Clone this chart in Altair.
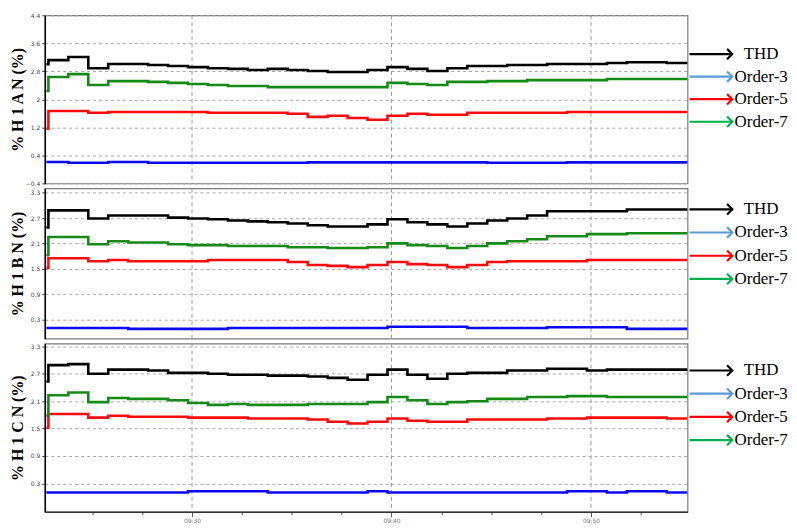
import altair as alt
import pandas as pd

# ---- data ----
times = [22.7, 22.8, 23.8, 24.8, 25.8, 26.8, 27.8, 28.8, 29.8, 30.8, 31.8, 32.8,
         33.8, 34.8, 35.8, 36.8, 37.8, 38.8, 39.8, 40.8, 41.8, 42.8, 43.8, 44.8,
         45.8, 46.8, 47.8, 48.8, 49.8, 50.8, 51.8, 52.8, 53.8]
t_end = 54.84

series_names = ["THD", "Order-3", "Order-5", "Order-7"]
line_colors = ["#000000", "#0a0af0", "#ff0a0a", "#168a16"]
legend_labels = ["THD", "Order-3", "Order-5", "Order-7"]
legend_colors = ["#000000", "#5b9bd5", "#ff0000", "#00b050"]

a_thd = [3.00, 3.12, 3.21, 2.89, 3.01, 3.01, 2.98, 2.95, 2.92, 2.89, 2.87, 2.84, 2.87, 2.84, 2.81, 2.78, 2.78,
         2.84, 2.92, 2.87, 2.81, 2.89, 2.95, 2.95, 2.98, 2.98, 3.01, 3.01, 3.01, 3.04, 3.06, 3.06, 3.04]
a_h3 = [0.21, 0.21, 0.19, 0.19, 0.21, 0.21, 0.19, 0.19, 0.19, 0.19, 0.19, 0.19, 0.19, 0.19, 0.20, 0.20, 0.20,
        0.20, 0.20, 0.20, 0.20, 0.20, 0.20, 0.19, 0.19, 0.19, 0.19, 0.20, 0.20, 0.20, 0.20, 0.20, 0.20]
a_h5 = [1.16, 1.67, 1.67, 1.62, 1.64, 1.64, 1.64, 1.64, 1.64, 1.62, 1.62, 1.62, 1.62, 1.59, 1.50, 1.53, 1.47,
        1.42, 1.53, 1.59, 1.56, 1.56, 1.62, 1.62, 1.62, 1.62, 1.62, 1.64, 1.64, 1.64, 1.64, 1.64, 1.64]
a_h7 = [2.24, 2.64, 2.72, 2.41, 2.52, 2.52, 2.50, 2.47, 2.44, 2.41, 2.38, 2.38, 2.35, 2.35, 2.35, 2.35, 2.35,
        2.35, 2.47, 2.44, 2.41, 2.50, 2.50, 2.52, 2.52, 2.55, 2.55, 2.55, 2.55, 2.58, 2.58, 2.58, 2.58]

b_thd = [2.48, 2.88, 2.88, 2.69, 2.76, 2.76, 2.76, 2.71, 2.69, 2.67, 2.64, 2.62, 2.60, 2.57, 2.53, 2.50, 2.50,
         2.55, 2.67, 2.60, 2.55, 2.50, 2.57, 2.64, 2.69, 2.76, 2.86, 2.86, 2.86, 2.86, 2.90, 2.90, 2.90]
b_h3 = [0.10, 0.10, 0.10, 0.10, 0.10, 0.08, 0.08, 0.08, 0.08, 0.08, 0.10, 0.10, 0.10, 0.10, 0.10, 0.10, 0.10,
        0.10, 0.13, 0.13, 0.13, 0.13, 0.10, 0.10, 0.10, 0.10, 0.12, 0.12, 0.12, 0.12, 0.08, 0.08, 0.08]
b_h5 = [1.52, 1.75, 1.75, 1.68, 1.71, 1.68, 1.68, 1.68, 1.68, 1.71, 1.71, 1.71, 1.71, 1.66, 1.59, 1.57, 1.54,
        1.59, 1.66, 1.61, 1.59, 1.54, 1.59, 1.66, 1.68, 1.68, 1.68, 1.68, 1.71, 1.71, 1.71, 1.71, 1.71]
b_h7 = [1.82, 2.25, 2.25, 2.08, 2.15, 2.12, 2.12, 2.08, 2.06, 2.06, 2.04, 2.04, 2.04, 2.01, 2.01, 1.99, 1.99,
        2.01, 2.10, 2.06, 2.04, 1.99, 2.04, 2.10, 2.15, 2.20, 2.27, 2.27, 2.32, 2.32, 2.34, 2.34, 2.34]

c_thd = [2.53, 2.89, 2.91, 2.70, 2.79, 2.79, 2.77, 2.72, 2.72, 2.70, 2.68, 2.68, 2.66, 2.66, 2.64, 2.61, 2.57,
         2.68, 2.79, 2.68, 2.59, 2.70, 2.72, 2.72, 2.77, 2.77, 2.81, 2.81, 2.77, 2.79, 2.79, 2.79, 2.79]
c_h3 = [0.10, 0.10, 0.10, 0.10, 0.10, 0.10, 0.10, 0.10, 0.13, 0.13, 0.13, 0.13, 0.10, 0.10, 0.10, 0.10, 0.10,
        0.13, 0.10, 0.10, 0.10, 0.10, 0.10, 0.10, 0.10, 0.10, 0.10, 0.13, 0.13, 0.10, 0.13, 0.13, 0.10]
c_h5 = [1.52, 1.82, 1.82, 1.74, 1.78, 1.76, 1.76, 1.76, 1.74, 1.74, 1.74, 1.72, 1.72, 1.72, 1.70, 1.65, 1.61,
        1.65, 1.72, 1.67, 1.65, 1.65, 1.70, 1.70, 1.70, 1.70, 1.72, 1.72, 1.74, 1.74, 1.74, 1.74, 1.72]
c_h7 = [1.78, 2.23, 2.29, 2.08, 2.17, 2.15, 2.15, 2.12, 2.06, 2.02, 2.04, 2.02, 2.02, 2.02, 2.04, 2.04, 2.04,
        2.08, 2.19, 2.12, 2.04, 2.08, 2.10, 2.15, 2.15, 2.19, 2.19, 2.21, 2.21, 2.19, 2.19, 2.19, 2.19]

major_ticks = [30, 40, 50]
minor_ticks = [25, 27.5, 32.5, 35, 37.5, 42.5, 45, 47.5, 52.5]

a_ticks = [-0.4, 0.4, 1.2, 2, 2.8, 3.6, 4.4]
bc_ticks = [0.3, 0.9, 1.5, 2.1, 2.7, 3.3]

X_DOMAIN = [22.62, 54.84]
SERIF = "Liberation Serif"


def make_df(series):
    rows = []
    for name, vals in zip(series_names, series):
        for t, v in zip(times + [t_end], vals + [vals[-1]]):
            rows.append({"t": t, "v": v, "series": name})
    return pd.DataFrame(rows)


def panel(series, title, domain, ticks, height, bottom):
    df = make_df(series)
    if bottom:
        x_axis = alt.Axis(
            values=major_ticks + minor_ticks,
            labelExpr="datum.value % 10 == 0 ? '09:' + datum.value : ''",
            grid=False, title=None, labelFontSize=6, labelColor="#777",
            labelFont="DejaVu Sans", tickColor="#555",
            tickSize={"condition": {"test": "datum.value % 10 == 0", "value": 5}, "value": 3},
            domainColor="#333", domainWidth=1.5, labelPadding=1,
        )
    else:
        x_axis = None
    x_enc = alt.X("t:Q", scale=alt.Scale(domain=X_DOMAIN, nice=False, zero=False), axis=x_axis)
    grid = alt.Chart(pd.DataFrame({"t": major_ticks})).mark_rule(
        color="#9a9a9a", strokeDash=[4, 3], strokeWidth=1
    ).encode(x=x_enc)
    lines = alt.Chart(df).mark_line(interpolate="step-after", strokeWidth=2.6, clip=True).encode(
        x=x_enc,
        y=alt.Y("v:Q", scale=alt.Scale(domain=domain, nice=False, zero=False),
                axis=alt.Axis(values=ticks, format="~g", title=title, grid=True,
                              gridDash=[3, 3], gridColor="#a8a8a8", labelFontSize=6,
                              labelColor="#444", labelFont="DejaVu Sans", tickSize=3,
                              tickColor="#444", domainColor="#000", domainWidth=1.5,
                              titleFont=SERIF, titleFontSize=16, titleFontWeight="bold",
                              titleColor="#000", titlePadding=3, minExtent=16, maxExtent=16,
                              labelPadding=2)),
        color=alt.Color("series:N", scale=alt.Scale(domain=series_names, range=line_colors),
                        legend=None),
    )
    return alt.layer(grid, lines).properties(width=646, height=height)


def legend(height, y_range):
    ldf = pd.DataFrame({"label": legend_labels, "col": legend_colors,
                        "row": list(range(len(legend_labels)))})
    y_enc = alt.Y("row:Q", scale=alt.Scale(domain=[0, 3], range=y_range), axis=None)
    c_enc = alt.Color("col:N", scale=None)
    base = alt.Chart(ldf)
    shaft = base.mark_rule(strokeWidth=2.2).encode(
        x=alt.value(2), x2=alt.value(45), y=y_enc, color=c_enc)
    head = base.mark_point(shape="M-1,-1L0,0L-1,1", filled=False, strokeWidth=2.2,
                           size=110, opacity=1).encode(x=alt.value(45), y=y_enc, color=c_enc)
    text = base.mark_text(font=SERIF, fontSize=17, align="center", baseline="middle",
                          color="#000").encode(x=alt.value(74), y=y_enc, text="label:N")
    return alt.layer(shaft, head, text).properties(
        width=100, height=height, view=alt.ViewBackground(stroke="transparent"))


p1 = panel([a_thd, a_h3, a_h5, a_h7], "% H 1 A N (%)", [-0.4, 4.4], a_ticks, 169, False)
p2 = panel([b_thd, b_h3, b_h5, b_h7], "% H 1 B N (%)", [-0.15, 3.4], bc_ticks, 151, False)
p3 = panel([c_thd, c_h3, c_h5, c_h7], "% H 1 C N (%)", [-0.32, 3.36], bc_ticks, 169, True)

chart = alt.concat(
    p1, legend(169, [39, 107]),
    p2, legend(151, [21, 91]),
    p3, legend(169, [27, 97]),
    columns=2, spacing={"row": 5, "column": 0}, bounds="flush",
).properties(
    padding={"left": 1, "top": 2, "right": 0, "bottom": 0}
).configure_view(stroke="#7a7a7a", strokeWidth=1.2)

chart.save("out.html", embed_options={"renderer": "svg", "actions": False})
